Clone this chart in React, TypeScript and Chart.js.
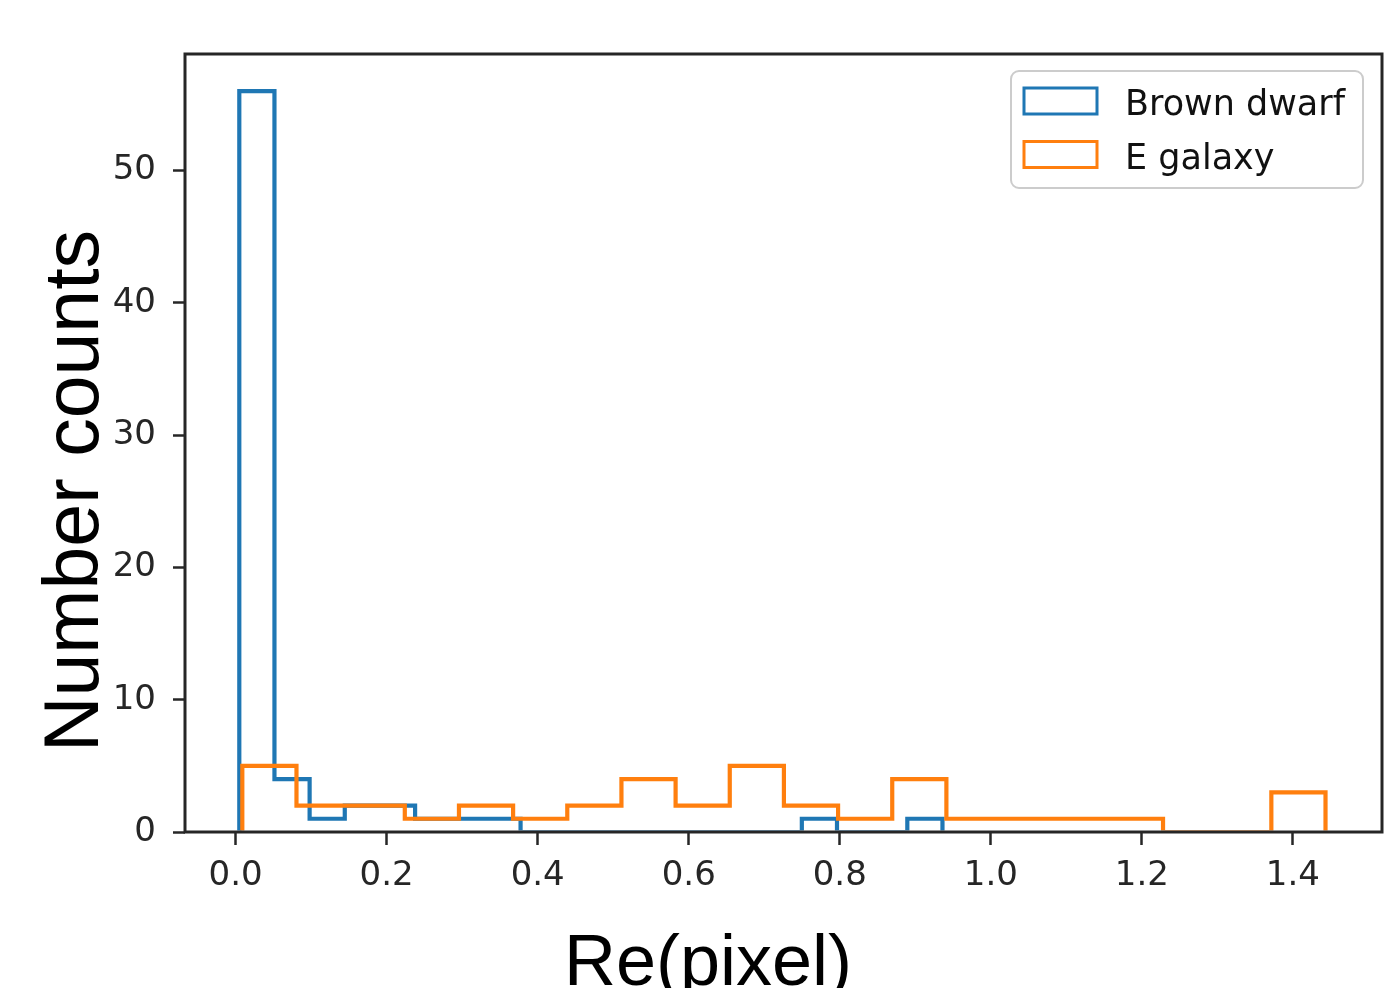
import React, { useEffect, useRef } from "react";
import { Chart, registerables } from "chart.js";

Chart.register(...registerables);

// ---- data ----
const SERIES_LABELS = ["Brown dwarf", "E galaxy"];
const SERIES_COLORS = ["#1f77b4", "#ff7f0e"];
// 20 equal-width bins per series: [first edge, last edge] and counts
const BROWN_DWARF_RANGE = [0.0049, 0.936];
const BROWN_DWARF_COUNTS = [56, 4, 1, 2, 2, 1, 1, 1, 0, 0, 0, 0, 0, 0, 0, 0, 1, 0, 0, 1];
const E_GALAXY_RANGE = [0.0089, 1.4432];
const E_GALAXY_COUNTS = [5, 2, 2, 1, 2, 1, 2, 4, 2, 5, 2, 1, 4, 1, 1, 1, 1, 0, 0, 3];
const X_TICKS = [0, 0.2, 0.4, 0.6, 0.8, 1.0, 1.2, 1.4];
const Y_TICKS = [0, 10, 20, 30, 40, 50];
const X_LIMITS = [-0.067, 1.518];
const Y_LIMITS = [0, 58.8];
const X_TITLE = "Re(pixel)";
const Y_TITLE = "Number counts";

// matplotlib histtype="step" outline
function stepOutline(counts: number[], range: number[]) {
  const n = counts.length;
  const w = (range[1] - range[0]) / n;
  const pts: { x: number; y: number }[] = [{ x: range[0], y: 0 }];
  counts.forEach((c, i) => {
    pts.push({ x: range[0] + i * w, y: c });
    pts.push({ x: range[0] + (i + 1) * w, y: c });
  });
  pts.push({ x: range[1], y: 0 });
  return pts;
}

const TICK_FONT = { family: "'DejaVu Sans', sans-serif", size: 34 };
const INK = "#262626";

const decorations = {
  id: "decorations",
  afterDatasetsDraw(chart: any) {
    const { ctx, chartArea: a } = chart;
    ctx.save();
    ctx.strokeStyle = INK;
    ctx.lineWidth = 3;
    ctx.strokeRect(a.left, a.top, a.right - a.left, a.bottom - a.top);
    ctx.restore();
  },
  afterDraw(chart: any) {
    const { ctx, chartArea: a } = chart;
    ctx.save();
    // axis titles
    ctx.fillStyle = "#000";
    ctx.textAlign = "center";
    ctx.textBaseline = "alphabetic";
    ctx.font = "72px 'Liberation Sans', Arial, sans-serif";
    ctx.fillText(X_TITLE, 708, 985);
    ctx.save();
    ctx.translate(98, 491);
    ctx.rotate(-Math.PI / 2);
    ctx.font = "77px 'Liberation Sans', Arial, sans-serif";
    ctx.fillText(Y_TITLE, 0, 0);
    ctx.restore();

    // legend (upper right, inside axes)
    const lx = a.right - 371;
    const ly = a.top + 17;
    const lw = 352;
    const lh = 117;
    ctx.beginPath();
    ctx.roundRect(lx, ly, lw, lh, 8);
    ctx.fillStyle = "rgba(255,255,255,0.8)";
    ctx.fill();
    ctx.strokeStyle = "#cccccc";
    ctx.lineWidth = 2;
    ctx.stroke();

    ctx.textAlign = "left";
    ctx.textBaseline = "alphabetic";
    ctx.font = "35px 'DejaVu Sans', sans-serif";
    SERIES_LABELS.forEach((label, i) => {
      const rowY = ly + 17 + i * 53.5;
      ctx.strokeStyle = SERIES_COLORS[i];
      ctx.lineWidth = 3;
      ctx.strokeRect(lx + 13, rowY, 73, 26);
      ctx.fillStyle = "#111";
      ctx.fillText(label, lx + 114, rowY + 27);
    });
    ctx.restore();
  },
};

export default function App() {
  const ref = useRef<HTMLCanvasElement>(null);

  useEffect(() => {
    const canvas = ref.current!;
    const chart = new Chart(canvas, {
      type: "scatter",
      data: {
        datasets: [
          {
            label: SERIES_LABELS[0],
            data: stepOutline(BROWN_DWARF_COUNTS, BROWN_DWARF_RANGE),
            borderColor: SERIES_COLORS[0],
            backgroundColor: SERIES_COLORS[0],
            showLine: true,
            borderWidth: 4.2,
            pointRadius: 0,
            tension: 0,
            order: 1,
            clip: { left: 4, top: 4, right: 4, bottom: -1.5 },
          },
          {
            label: SERIES_LABELS[1],
            data: stepOutline(E_GALAXY_COUNTS, E_GALAXY_RANGE),
            borderColor: SERIES_COLORS[1],
            backgroundColor: SERIES_COLORS[1],
            showLine: true,
            borderWidth: 4.2,
            pointRadius: 0,
            tension: 0,
            order: 0,
            clip: { left: 4, top: 4, right: 4, bottom: -1.5 },
          },
        ],
      },
      options: {
        responsive: false,
        animation: false,
        devicePixelRatio: 1,
        layout: { padding: { left: 0, top: 54, right: 12, bottom: 0 } },
        plugins: {
          legend: { display: false },
          tooltip: { enabled: false },
        },
        scales: {
          x: {
            type: "linear",
            min: X_LIMITS[0],
            max: X_LIMITS[1],
            afterBuildTicks: (axis: any) => {
              axis.ticks = X_TICKS.map((v) => ({ value: v }));
            },
            afterFit: (axis: any) => {
              axis.height = 156;
            },
            ticks: {
              font: TICK_FONT,
              color: INK,
              padding: 11,
              maxRotation: 0,
              autoSkip: false,
              callback: (v: any) => Number(v).toFixed(1),
            },
            grid: {
              drawOnChartArea: false,
              drawTicks: true,
              tickLength: 13,
              tickWidth: 2.5,
              tickColor: INK,
            },
            border: { display: false },
          },
          y: {
            type: "linear",
            min: Y_LIMITS[0],
            max: Y_LIMITS[1],
            afterBuildTicks: (axis: any) => {
              axis.ticks = Y_TICKS.map((v) => ({ value: v }));
            },
            afterFit: (axis: any) => {
              axis.width = 185;
            },
            ticks: {
              font: TICK_FONT,
              color: INK,
              padding: 17,
              autoSkip: false,
              callback: (v: any) => String(v),
            },
            grid: {
              drawOnChartArea: false,
              drawTicks: true,
              tickLength: 12,
              tickWidth: 2.5,
              tickColor: INK,
            },
            border: { display: false },
          },
        },
      },
      plugins: [decorations],
    } as any);
    return () => chart.destroy();
  }, []);

  return (
    <div
      style={{
        position: "absolute",
        left: 0,
        top: 0,
        width: 1394,
        height: 988,
        background: "#ffffff",
        overflow: "hidden",
      }}
    >
      <canvas ref={ref} width={1394} height={988} style={{ display: "block", width: 1394, height: 988 }} />
    </div>
  );
}
